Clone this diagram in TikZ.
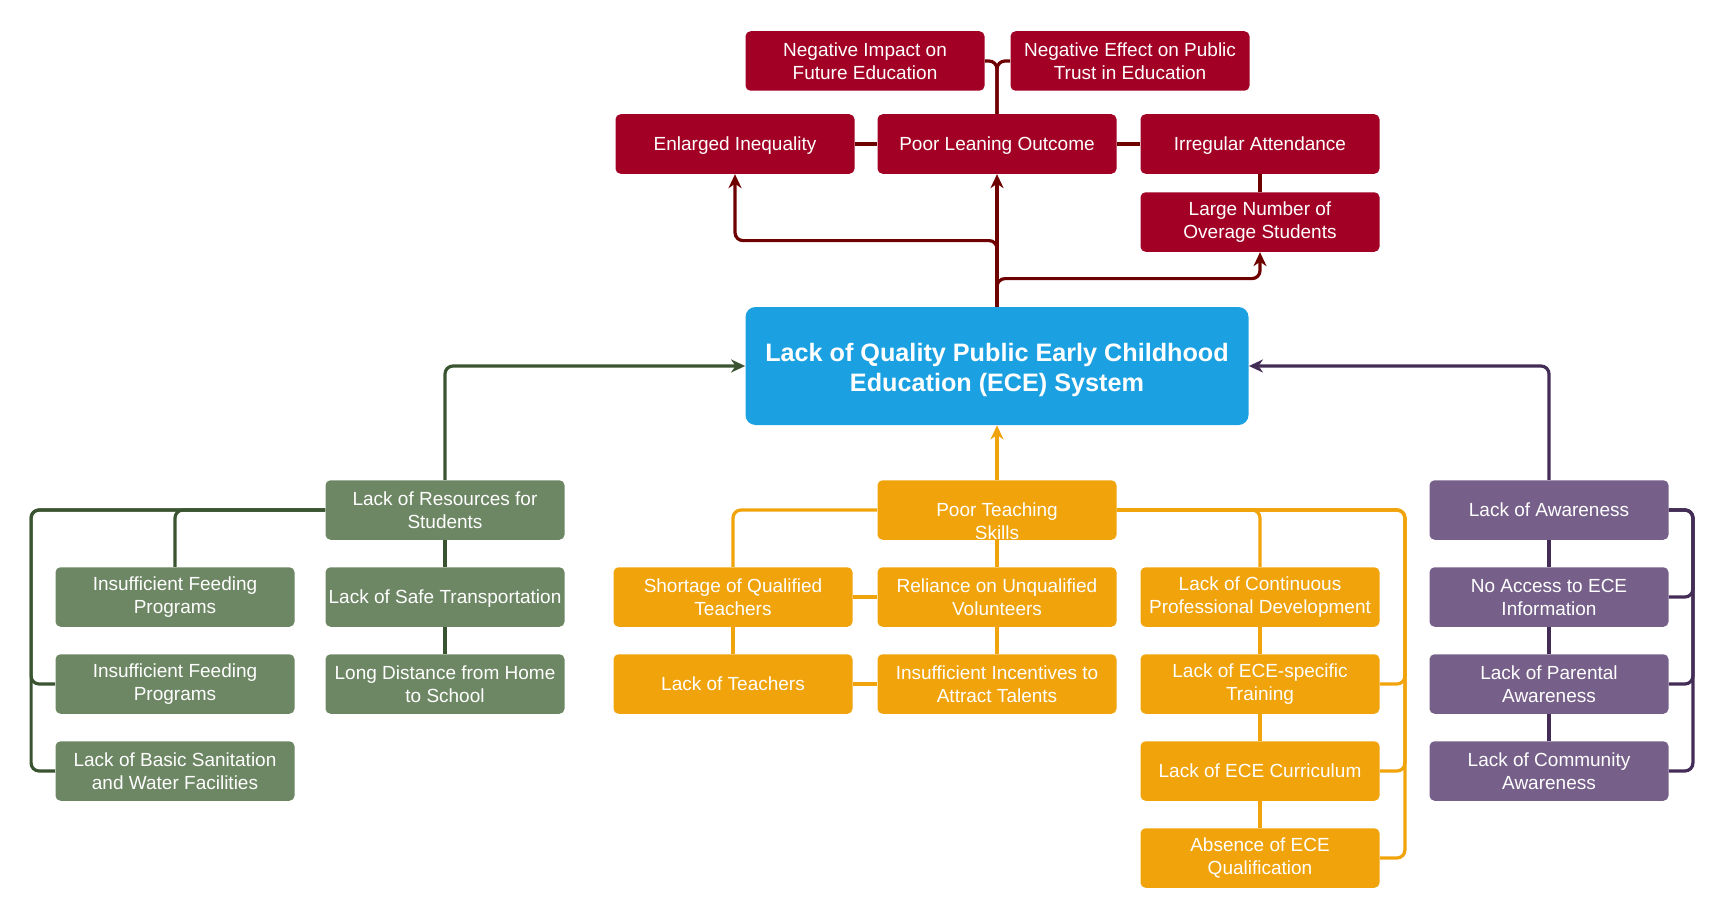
\documentclass[tikz,border=0pt]{standalone}
\usepackage{fontspec}
\setmainfont{Liberation Sans}
\usetikzlibrary{positioning,arrows.meta}
\definecolor{effectfill}{HTML}{A20025}
\definecolor{effectdraw}{HTML}{6F0000}
\definecolor{corefill}{HTML}{1BA1E2}
\definecolor{resfill}{HTML}{6D8764}
\definecolor{resdraw}{HTML}{3A5431}
\definecolor{teachfill}{HTML}{F0A30A}
\definecolor{awarefill}{HTML}{76608A}
\definecolor{awaredraw}{HTML}{432D57}

\begin{document}
\begin{tikzpicture}[x=0.5pt,y=-0.5pt]
\tikzset{cause/.style={minimum width=119.5pt,minimum height=29.75pt,rounded corners=2.5pt,
  align=center,inner sep=1pt,text=white,font=\fontsize{9.5}{11.5}\selectfont},
lone/.style={align=none,text depth=0pt},
effect/.style={cause,fill=effectfill},
resource/.style={cause,fill=resfill},
teach/.style={cause,fill=teachfill},
aware/.style={cause,fill=awarefill},
core/.style={minimum width=251.5pt,minimum height=59pt,rounded corners=5pt,fill=corefill,
  align=center,text=white,font=\bfseries\fontsize{12.6}{15}\selectfont},
link/.style={line width=1.6pt,rounded corners=4pt,>={Stealth[length=7pt,width=6.5pt,inset=2.2pt]}},
node distance=43.5pt,
}
\useasboundingbox (0,0) rectangle (1728,920);

\node[core] (main) at (997,366) {\rule{0pt}{13pt}Lack of Quality Public Early Childhood\\Education (ECE) System};

\node[effect,lone] (outcome) at (997,144) {Poor Leaning Outcome};
\node[effect,lone] (inequal) [left of=outcome,xshift=-87.5pt] {Enlarged Inequality};
\node[effect,lone] (attend) [right of=outcome,xshift=88pt] {Irregular Attendance};
\node[effect] (overage) [below of=attend,yshift=4.5pt] {Large Number of\\Overage Students};
\node[effect] (impact) at (865,61) {Negative Impact on\\Future Education};
\node[effect] (trust) [right of=impact,xshift=89pt] {Negative Effect on Public\\Trust in Education};

\node[resource] (resources) at (445,510) {Lack of Resources for\\Students};
\node[resource,lone] (transport) [below of=resources] {Lack of Safe Transportation};
\node[resource] (distance) [below of=transport] {Long Distance from Home\\to School};
\node[resource] (feed1) [left of=transport,xshift=-91.5pt] {Insufficient Feeding\\Programs};
\node[resource] (feed2) [below of=feed1] {Insufficient Feeding\\Programs};
\node[resource] (sanitation) [below of=feed2] {Lack of Basic Sanitation\\and Water Facilities};

\node[teach,align=none] (teaching) at (997,510) {\raisebox{-14.5pt}[0pt][0pt]{\begin{tabular}[b]{@{}c@{}}Poor Teaching\\Skills\end{tabular}}};
\node[teach] (reliance) [below of=teaching] {Reliance on Unqualified\\Volunteers};
\node[teach] (incentives) [below of=reliance] {Insufficient Incentives to\\Attract Talents};
\node[teach] (shortage) [left of=reliance,xshift=-88.5pt] {Shortage of Qualified\\Teachers};
\node[teach,lone] (teachers) [below of=shortage] {Lack of Teachers};
\node[teach] (development) [right of=reliance,xshift=88pt] {Lack of Continuous\\Professional Development};
\node[teach] (training) [below of=development] {Lack of ECE-specific\\Training};
\node[teach,lone] (curriculum) [below of=training] {Lack of ECE Curriculum};
\node[teach] (qualification) [below of=curriculum] {Absence of ECE\\Qualification};

\node[aware,lone] (awareness) at (1549,510) {Lack of Awareness};
\node[aware] (access) [below of=awareness] {No Access to ECE\\Information};
\node[aware] (parental) [below of=access] {Lack of Parental\\Awareness};
\node[aware] (community) [below of=parental] {Lack of Community\\Awareness};

\path[draw,link,effectdraw,->] (main.north) -- (outcome.south);
\path[draw,link,effectdraw,->] (main.north) -- ++(0,-66) -| (inequal.south);
\path[draw,link,effectdraw,->] (main.north) -- ++(0,-28) -| (overage.south);
\path[draw,link,effectdraw] (outcome.north) |- (impact.east);
\path[draw,link,effectdraw] (outcome.north) |- (trust.west);
\path[draw,link,effectdraw] (inequal) -- (outcome) (outcome) -- (attend) (attend) -- (overage);

\path[draw,link,resdraw,->] (resources.north) |- (main.west);
\path[draw,link,resdraw] (resources.west) -| (feed1.north);
\path[draw,link,resdraw] (resources.west) -| ([xshift=-12pt]feed2.west) -- (feed2.west);
\path[draw,link,resdraw] (resources.west) -| ([xshift=-12pt]sanitation.west) -- (sanitation.west);
\path[draw,link,resdraw] (resources) -- (transport) (transport) -- (distance);

\path[draw,link,teachfill,->] (teaching.north) -- (main.south);
\path[draw,link,teachfill] (teaching.west) -| (shortage.north);
\path[draw,link,teachfill] (teaching.east) -| (development.north);
\path[draw,link,teachfill] (teaching.east) -| ([xshift=12.5pt]training.east) -- (training.east);
\path[draw,link,teachfill] (teaching.east) -| ([xshift=12.5pt]curriculum.east) -- (curriculum.east);
\path[draw,link,teachfill] (teaching.east) -| ([xshift=12.5pt]qualification.east) -- (qualification.east);
\path[draw,link,teachfill] (teaching) -- (reliance) (reliance) -- (incentives) (shortage) -- (reliance)
  (shortage) -- (teachers) (teachers) -- (incentives) (development) -- (training)
  (training) -- (curriculum) (curriculum) -- (qualification);

\path[draw,link,awaredraw,->] (awareness.north) |- (main.east);
\path[draw,link,awaredraw] (awareness) -- (access) (access) -- (parental) (parental) -- (community);
\path[draw,link,awaredraw] (awareness.east) -| ([xshift=12pt]access.east) -- (access.east);
\path[draw,link,awaredraw] (awareness.east) -| ([xshift=12pt]parental.east) -- (parental.east);
\path[draw,link,awaredraw] (awareness.east) -| ([xshift=12pt]community.east) -- (community.east);

\end{tikzpicture}
\end{document}
